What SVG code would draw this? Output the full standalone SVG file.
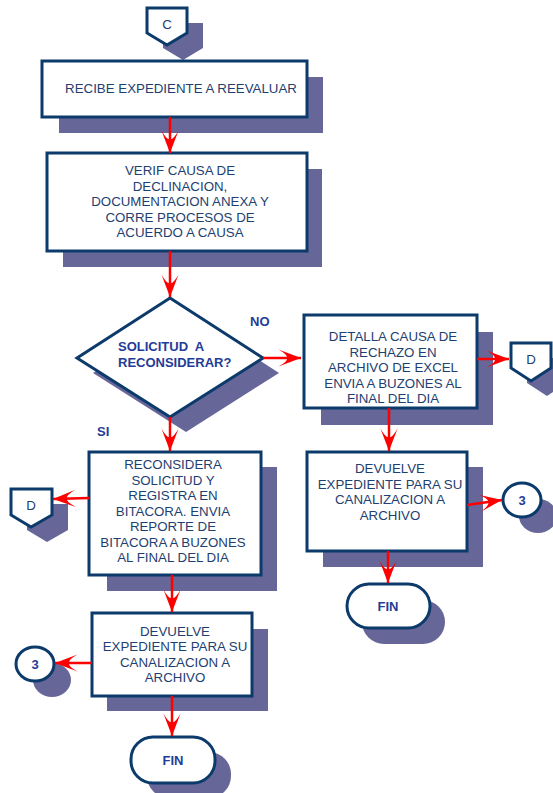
<svg xmlns="http://www.w3.org/2000/svg" width="553" height="793" viewBox="0 0 553 793">
  <style>
    .shadow { fill: #666699; stroke: none; }
    .node { fill: #ffffff; stroke: #0b3a6b; stroke-width: 3; stroke-linejoin: miter; }
    .txt { font-family: "Liberation Sans", Arial, sans-serif; font-size: 13.3px; fill: #1d4070; text-anchor: middle; }
    .bold { font-family: "Liberation Sans", Arial, sans-serif; font-size: 13px; font-weight: bold; fill: #1f3c98; }
    .flow { stroke: #ff0000; stroke-width: 2.5; fill: none; marker-end: url(#head); }
  </style>
  <defs>
    <marker id="head" markerUnits="userSpaceOnUse" markerWidth="30" markerHeight="30" refX="0" refY="0" viewBox="-24 -12 28 24" orient="auto" overflow="visible">
      <path d="M0,0 L-21,-8 Q-12,-3 -13,0 Q-12,3 -21,8 Z" fill="#ff0000"/>
    </marker>
  </defs>

  <!-- off-page connector C -->
  <g id="conn-c">
    <path class="shadow" d="M163,23 H203 V48 L183,60 L163,48 Z"/>
    <path class="node" d="M147,8 H187 V33 L167,45 L147,33 Z"/>
    <text class="txt" x="167" y="29">C</text>
  </g>

  <!-- step: receive file -->
  <g id="recibe">
    <rect class="shadow" x="59" y="77" width="264" height="56"/>
    <rect class="node" x="42" y="61" width="265" height="56"/>
    <text class="txt" x="181" y="93">RECIBE EXPEDIENTE A REEVALUAR</text>
  </g>

  <!-- step: verify cause -->
  <g id="verif">
    <rect class="shadow" x="63" y="169" width="259" height="98"/>
    <rect class="node" x="47" y="153" width="260" height="98"/>
    <text class="txt" x="180" y="175">VERIF CAUSA DE</text>
    <text class="txt" x="180" y="190.5">DECLINACION,</text>
    <text class="txt" x="180" y="206">DOCUMENTACION ANEXA Y</text>
    <text class="txt" x="180" y="221.5">CORRE PROCESOS DE</text>
    <text class="txt" x="180" y="237">ACUERDO A CAUSA</text>
  </g>

  <!-- decision -->
  <g id="decision">
    <path class="shadow" d="M186,313 L279,373 L186,432 L93,373 Z"/>
    <path class="node" d="M170,298 L263,358 L170,417 L77,358 Z"/>
    <text class="bold" x="118" y="351" xml:space="preserve">SOLICITUD  A</text>
    <text class="bold" x="118" y="367">RECONSIDERAR?</text>
  </g>
  <text class="bold" x="250" y="326">NO</text>
  <text class="bold" x="97" y="436">SI</text>

  <!-- NO branch: detail rejection -->
  <g id="detalla">
    <rect class="shadow" x="321" y="332" width="172" height="93"/>
    <rect class="node" x="304" y="315" width="173" height="93"/>
    <text class="txt" x="393" y="341">DETALLA CAUSA DE</text>
    <text class="txt" x="393" y="356.5">RECHAZO EN</text>
    <text class="txt" x="393" y="372">ARCHIVO DE EXCEL</text>
    <text class="txt" x="393" y="387.5">ENVIA A BUZONES AL</text>
    <text class="txt" x="393" y="403">FINAL DEL DIA</text>
  </g>

  <!-- off-page connector D (right) -->
  <g id="conn-d-right">
    <path class="shadow" d="M527,358 H567 V383 L547,396 L527,383 Z"/>
    <path class="node" d="M511,343 H551 V368 L531,381 L511,368 Z"/>
    <text class="txt" x="531" y="364">D</text>
  </g>

  <!-- NO branch: return file -->
  <g id="devuelve-right">
    <rect class="shadow" x="323" y="467" width="160" height="100"/>
    <rect class="node" x="307" y="452" width="160" height="99"/>
    <text class="txt" x="390" y="473">DEVUELVE</text>
    <text class="txt" x="390" y="488.5">EXPEDIENTE PARA SU</text>
    <text class="txt" x="390" y="504">CANALIZACION A</text>
    <text class="txt" x="390" y="519.5">ARCHIVO</text>
  </g>

  <!-- on-page connector 3 (right) -->
  <g id="conn-3-right">
    <ellipse class="shadow" cx="538" cy="516" rx="19" ry="17"/>
    <ellipse class="node" cx="522" cy="500" rx="19" ry="17"/>
    <text class="bold" x="522" y="505" text-anchor="middle">3</text>
  </g>

  <!-- end (right) -->
  <g id="fin-right">
    <rect class="shadow" x="362" y="600" width="83" height="44" rx="22"/>
    <rect class="node" x="347" y="584" width="83" height="44" rx="22"/>
    <text class="bold" x="388" y="611" text-anchor="middle">FIN</text>
  </g>

  <!-- SI branch: reconsider -->
  <g id="reconsidera">
    <rect class="shadow" x="107" y="467" width="170" height="124"/>
    <rect class="node" x="89" y="452" width="172" height="123"/>
    <text class="txt" x="173" y="469">RECONSIDERA</text>
    <text class="txt" x="173" y="484.5">SOLICITUD Y</text>
    <text class="txt" x="173" y="500">REGISTRA EN</text>
    <text class="txt" x="173" y="515.5">BITACORA. ENVIA</text>
    <text class="txt" x="173" y="531">REPORTE DE</text>
    <text class="txt" x="173" y="546.5">BITACORA A BUZONES</text>
    <text class="txt" x="173" y="562">AL FINAL DEL DIA</text>
  </g>

  <!-- off-page connector D (left) -->
  <g id="conn-d-left">
    <path class="shadow" d="M27,504 H68 V530 L47,542 L27,530 Z"/>
    <path class="node" d="M11,489 H52 V515 L31,527 L11,515 Z"/>
    <text class="txt" x="31" y="510">D</text>
  </g>

  <!-- SI branch: return file -->
  <g id="devuelve-left">
    <rect class="shadow" x="107" y="629" width="161" height="82"/>
    <rect class="node" x="92" y="613" width="160" height="83"/>
    <text class="txt" x="175" y="636">DEVUELVE</text>
    <text class="txt" x="175" y="651">EXPEDIENTE PARA SU</text>
    <text class="txt" x="175" y="666.5">CANALIZACION A</text>
    <text class="txt" x="175" y="682">ARCHIVO</text>
  </g>

  <!-- on-page connector 3 (left) -->
  <g id="conn-3-left">
    <ellipse class="shadow" cx="52" cy="680" rx="19" ry="17"/>
    <ellipse class="node" cx="35" cy="664" rx="19" ry="17"/>
    <text class="bold" x="35" y="669" text-anchor="middle">3</text>
  </g>

  <!-- end (left) -->
  <g id="fin-left">
    <rect class="shadow" x="147" y="752" width="84" height="46" rx="22"/>
    <rect class="node" x="131" y="737" width="84" height="46" rx="22"/>
    <text class="bold" x="173" y="765" text-anchor="middle">FIN</text>
  </g>

  <!-- connectors -->
  <g id="connectors">
    <line class="flow" x1="170" y1="117" x2="170" y2="153"/>
    <line class="flow" x1="170" y1="251" x2="170" y2="297"/>
    <line class="flow" x1="170" y1="417" x2="170" y2="451"/>
    <line class="flow" x1="263" y1="358" x2="301" y2="358"/>
    <line class="flow" x1="477" y1="359" x2="509" y2="359"/>
    <line class="flow" x1="389" y1="408" x2="389" y2="451"/>
    <line class="flow" x1="467" y1="505" x2="502" y2="500"/>
    <line class="flow" x1="388" y1="551" x2="388" y2="583"/>
    <line class="flow" x1="89" y1="498" x2="53" y2="499"/>
    <line class="flow" x1="172" y1="575" x2="172" y2="612"/>
    <line class="flow" x1="92" y1="663" x2="55" y2="663"/>
    <line class="flow" x1="172" y1="696" x2="172" y2="736"/>
  </g>
</svg>
